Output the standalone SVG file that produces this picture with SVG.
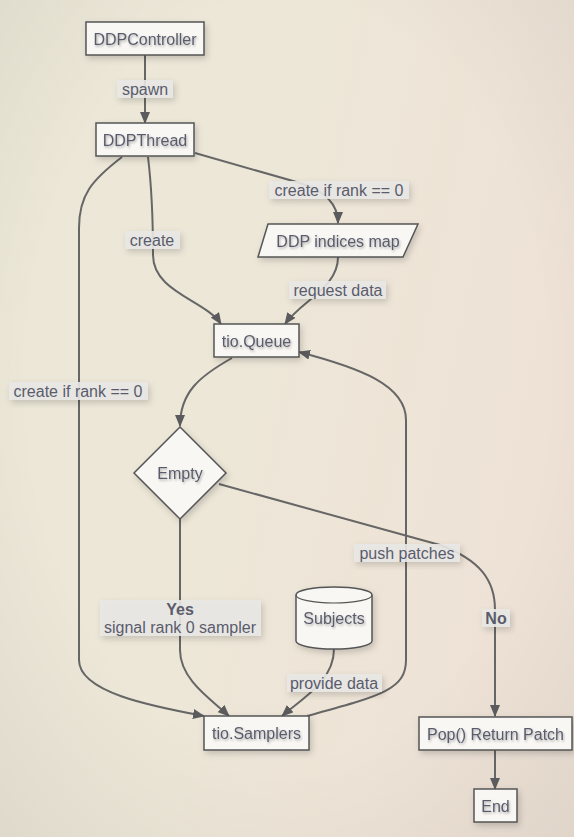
<svg xmlns="http://www.w3.org/2000/svg" width="574" height="837" viewBox="0 0 574 837">
<defs>
<linearGradient id="bg" x1="0" y1="0" x2="1" y2="0.3">
<stop offset="0" stop-color="#ebe7d7"/>
<stop offset="0.5" stop-color="#ede7d8"/>
<stop offset="1" stop-color="#eee2d6"/>
</linearGradient>
<radialGradient id="vig" cx="0.5" cy="0.45" r="0.75">
<stop offset="0.6" stop-color="#000" stop-opacity="0"/>
<stop offset="1" stop-color="#000" stop-opacity="0.06"/>
</radialGradient>
<filter id="sh" x="-20%" y="-20%" width="140%" height="160%">
<feDropShadow dx="2" dy="3" stdDeviation="3" flood-color="#000" flood-opacity="0.18"/>
</filter>
<filter id="ts" x="-10%" y="-30%" width="120%" height="160%">
<feDropShadow dx="1" dy="1.5" stdDeviation="1.2" flood-color="#000" flood-opacity="0.3"/>
</filter>
<marker id="arr" viewBox="0 0 12 10" refX="11" refY="5" markerWidth="12" markerHeight="10" markerUnits="userSpaceOnUse" orient="auto">
<path d="M0,0 L12,5 L0,10 Z" fill="#5b5b5e"/>
</marker>
<style>
.node{fill:#f8f7f4;stroke:#555;stroke-width:1.5}
.t{font-family:"Liberation Sans",Arial,sans-serif;font-size:16px;fill:#5a5c6c;text-anchor:middle;dominant-baseline:central}
.lt{font-family:"Liberation Sans",Arial,sans-serif;font-size:16px;fill:#5a5c6c;text-anchor:middle;dominant-baseline:central}
.lb{fill:#e9e8e5;fill-opacity:0.9}
.e{fill:none;stroke:#666;stroke-width:2;marker-end:url(#arr)}
</style>
</defs>
<rect width="574" height="837" fill="url(#bg)"/>
<rect width="574" height="837" fill="url(#vig)"/>

<g id="connectors">
<path class="e" d="M145,55 L145,123"/>
<path class="e" d="M195,153 L300,183 Q338,195 338,223"/>
<path class="e" d="M148,157 C152,190 153,220 153,255 C153,292 205,300 221,324"/>
<path class="e" d="M122,157 C92,180 79,195 79,228 L79,660 C79,692 150,706 204,716"/>
<path class="e" d="M338,257 C338,288 302,300 285,324"/>
<path class="e" d="M232,358 C200,376 180,392 180,426"/>
<path class="e" d="M180,519 L180,650 C180,680 212,700 229,716"/>
<path class="e" d="M219,484 L440,545 C480,560 495,580 495,610 L495,716"/>
<path class="e" d="M307,716 C380,696 406,690 406,660 L406,420 C406,385 360,368 299,352"/>
<path class="e" d="M334,649 C334,682 300,700 282,716"/>
<path class="e" d="M495,750 L495,789"/>
</g>

<g id="edge-labels">
<g filter="url(#sh)"><rect class="lb" x="117" y="80" width="56" height="18"/></g>
<text class="lt" x="145" y="89">spawn</text>
<g filter="url(#sh)"><rect class="lb" x="269" y="181" width="140" height="18"/></g>
<text class="lt" x="339" y="190">create if rank == 0</text>
<g filter="url(#sh)"><rect class="lb" x="125" y="231" width="55" height="18"/></g>
<text class="lt" x="152" y="240">create</text>
<g filter="url(#sh)"><rect class="lb" x="9" y="382" width="139" height="18"/></g>
<text class="lt" x="78" y="391">create if rank == 0</text>
<g filter="url(#sh)"><rect class="lb" x="289" y="281" width="97" height="18"/></g>
<text class="lt" x="338" y="290">request data</text>
<g filter="url(#sh)"><rect class="lb" x="100" y="600" width="161" height="36"/></g>
<text class="lt" x="180" y="609" font-weight="bold">Yes</text>
<text class="lt" x="180" y="627">signal rank 0 sampler</text>
<g filter="url(#sh)"><rect class="lb" x="354" y="544" width="106" height="18"/></g>
<text class="lt" x="407" y="553">push patches</text>
<g filter="url(#sh)"><rect class="lb" x="482" y="609" width="28" height="18"/></g>
<text class="lt" x="496" y="618" font-weight="bold">No</text>
<g filter="url(#sh)"><rect class="lb" x="287" y="674" width="95" height="18"/></g>
<text class="lt" x="334" y="683">provide data</text>
</g>

<g id="DDPController">
<rect class="node" x="86" y="22" width="118" height="33" filter="url(#sh)"/>
<text class="t" x="145" y="39" filter="url(#ts)">DDPController</text>
</g>
<g id="DDPThread">
<rect class="node" x="96" y="123" width="98" height="33" filter="url(#sh)"/>
<text class="t" x="145" y="140" filter="url(#ts)">DDPThread</text>
</g>
<g id="DDPIndicesMap">
<polygon class="node" points="268,224 418,224 403,257 258,257" filter="url(#sh)"/>
<text class="t" x="338" y="241" filter="url(#ts)">DDP indices map</text>
</g>
<g id="tioQueue">
<rect class="node" x="214" y="324" width="85" height="33" filter="url(#sh)"/>
<text class="t" x="256.5" y="341" filter="url(#ts)">tio.Queue</text>
</g>
<g id="Empty">
<polygon class="node" points="180,427 226,473 180,519 134,473" stroke-width="1" filter="url(#sh)"/>
<text class="t" x="180" y="473" filter="url(#ts)">Empty</text>
</g>
<g id="Subjects">
<path class="node" d="M296,595 A38,8 0 0 1 372,595 L372,641 A38,8 0 0 1 296,641 Z" stroke-width="1.2" filter="url(#sh)"/>
<path d="M296,595 A38,8 0 0 0 372,595" fill="none" stroke="#555" stroke-width="1.2"/>
<text class="t" x="334" y="618" filter="url(#ts)">Subjects</text>
</g>
<g id="tioSamplers">
<rect class="node" x="204" y="716" width="105" height="34" filter="url(#sh)"/>
<text class="t" x="256.5" y="733" filter="url(#ts)">tio.Samplers</text>
</g>
<g id="PopReturnPatch">
<rect class="node" x="419" y="717" width="153" height="33" filter="url(#sh)"/>
<text class="t" x="495.5" y="734" filter="url(#ts)">Pop() Return Patch</text>
</g>
<g id="End">
<rect class="node" x="474" y="789" width="43" height="33" filter="url(#sh)"/>
<text class="t" x="495.5" y="806" filter="url(#ts)">End</text>
</g>
</svg>
